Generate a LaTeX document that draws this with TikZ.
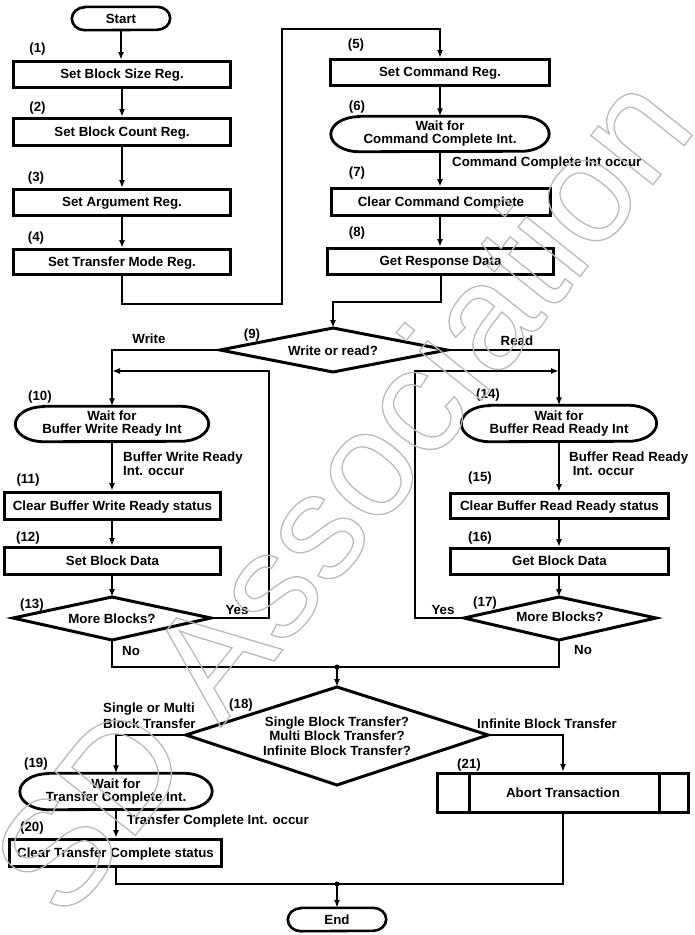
\documentclass[tikz,border=0pt]{standalone}
\usepackage{fontspec}
\setmainfont{Liberation Sans}
\newfontfamily\wmfont{Liberation Sans}
\usetikzlibrary{arrows.meta}
\newcommand\stadium[4]{% node, x radius, y radius, line width
  \draw[line width=#4] ([xshift=#2]#1.north west) -- ([xshift=-#2]#1.north east)
    arc[start angle=90,end angle=-90,x radius=#2,y radius=#3]
    -- ([xshift=#2]#1.south west)
    arc[start angle=270,end angle=90,x radius=#2,y radius=#3] -- cycle;}
\begin{document}
\begin{tikzpicture}[x=1pt,y=-1pt,
  every node/.style={inner sep=0pt, font=\fontsize{13.3}{14}\selectfont\bfseries},
  box/.style={draw, line width=3pt, align=center, text height=9.5pt, text depth=1.5pt},
  sta/.style={align=center, font=\fontsize{13.3}{13}\selectfont\bfseries},
  lbl/.style={align=left},
  conn/.style={line width=2pt},
  arr/.style={line width=2pt, -{Latex[length=8pt,width=6pt]}},
  dia/.style={line width=3pt, line join=miter},
  dot/.style={fill, circle, minimum size=5pt, inner sep=0pt},
]
\useasboundingbox (0,0) rectangle (694,935);

% ---------- left column ----------
\node[sta, minimum width=98pt, minimum height=23pt] (start) at (121,18.5) {Start};
\stadium{start}{13pt}{11.5pt}{2.6pt}
\node[box, minimum width=217pt, minimum height=26pt] (b1) at (122,74.5) {Set Block Size Reg.};
\node[box, minimum width=217pt, minimum height=27pt] (b2) at (122,132) {Set Block Count Reg.};
\node[box, minimum width=217pt, minimum height=26pt] (b3) at (122,202.5) {Set Argument Reg.};
\node[box, minimum width=217pt, minimum height=25pt] (b4) at (122,262) {Set Transfer Mode Reg.};
\node (l1) at (37.5,49) {(1)};
\node (l2) at (37.5,108) {(2)};
\node (l3) at (36,178) {(3)};
\node (l4) at (36,238) {(4)};

% ---------- right top column ----------
\node[box, minimum width=219pt, minimum height=26pt] (b5) at (440,72.5) {Set Command Reg.};
\node[sta, minimum width=218pt, minimum height=35pt] (e6) at (440,134) {Wait for\\Command Complete Int.};
\stadium{e6}{28pt}{17.5pt}{2.8pt}
\node[box, minimum width=219pt, minimum height=27pt] (b7) at (441,202) {Clear Command Complete};
\node[box, minimum width=226pt, minimum height=26pt] (b8) at (440.5,261.5) {Get Response Data};
\node (l5) at (356,45) {(5)};
\node (l6) at (357,107) {(6)};
\node (l7) at (357,173) {(7)};
\node (l8) at (357,233) {(8)};
\node[anchor=west] (t6) at (452,163) {Command Complete Int occur};

% ---------- decision 9 ----------
\coordinate (d9t) at (333,328);
\coordinate (d9l) at (220,350);
\coordinate (d9r) at (447,350);
\coordinate (d9b) at (333,372);
\draw[dia] (d9t) -- (d9r) -- (d9b) -- (d9l) -- cycle;
\node (d9) at (333,351) {Write or read?};
\node (l9) at (252,335) {(9)};
\node (tw) at (149,339) {Write};
\node (tr) at (517,341) {Read};

% ---------- write branch ----------
\node[sta, minimum width=193pt, minimum height=35pt] (e10) at (112,424) {Wait for\\Buffer Write Ready Int};
\stadium{e10}{28pt}{17.5pt}{2.8pt}
\node[box, minimum width=216pt, minimum height=27pt] (b11) at (112.5,506) {Clear Buffer Write Ready status};
\node[box, minimum width=216pt, minimum height=27pt] (b12) at (112.5,561) {Set Block Data};
\coordinate (d13t) at (112,597);
\coordinate (d13l) at (13,618);
\coordinate (d13r) at (211,618);
\coordinate (d13b) at (112,640);
\draw[dia] (d13t) -- (d13r) -- (d13b) -- (d13l) -- cycle;
\node (d13) at (112,619) {More Blocks?};
\node (l10) at (40,397) {(10)};
\node (l11) at (28,480) {(11)};
\node (l12) at (28,538) {(12)};
\node (l13) at (32,605) {(13)};
\node[lbl, anchor=west] (t10) at (123,464) {Buffer Write Ready\\Int. occur};
\node (y13) at (237,610) {Yes};
\node[anchor=west] (n13) at (122,651) {No};

% ---------- read branch ----------
\node[sta, minimum width=195pt, minimum height=36pt] (e14) at (559,423.5) {Wait for\\Buffer Read Ready Int};
\stadium{e14}{28pt}{18pt}{2.8pt}
\node[box, minimum width=218pt, minimum height=25pt] (b15) at (559.5,506) {Clear Buffer Read Ready status};
\node[box, minimum width=218pt, minimum height=26pt] (b16) at (559.5,561.5) {Get Block Data};
\coordinate (d17t) at (559,597);
\coordinate (d17l) at (464,618);
\coordinate (d17r) at (656,618);
\coordinate (d17b) at (559,640);
\draw[dia] (d17t) -- (d17r) -- (d17b) -- (d17l) -- cycle;
\node (d17) at (560,617) {More Blocks?};
\node (l14) at (488,395) {(14)};
\node (l15) at (480,478) {(15)};
\node (l16) at (480,538) {(16)};
\node (l17) at (485,603) {(17)};
\node[lbl, anchor=west] (t14) at (569,464) {Buffer Read Ready\\\ Int. occur};
\node (y17) at (443,610) {Yes};
\node[anchor=west] (n17) at (574,650) {No};

% ---------- decision 18 ----------
\coordinate (m1) at (337,667);
\coordinate (d18t) at (337,687);
\coordinate (d18l) at (186,735);
\coordinate (d18r) at (488,735);
\coordinate (d18b) at (337,785);
\draw[dia] (d18t) -- (d18r) -- (d18b) -- (d18l) -- cycle;
\node[align=center, font=\fontsize{13.3}{14.5}\selectfont\bfseries] (d18) at (337,736) {Single Block Transfer?\\Multi Block Transfer?\\Infinite Block Transfer?};
\node (l18) at (241,705) {(18)};
\node[lbl, anchor=west, font=\fontsize{13.3}{16}\selectfont\bfseries] (t18a) at (103,716) {Single or Multi\\Block Transfer};
\node[anchor=west] (t18b) at (477,724) {Infinite Block Transfer};

% ---------- bottom ----------
\node[sta, minimum width=192pt, minimum height=36pt] (e19) at (116,791.5) {Wait for\\Transfer Complete Int.};
\stadium{e19}{28pt}{18pt}{2.8pt}
\node[box, minimum width=212pt, minimum height=27pt] (b20) at (115.5,853) {Clear Transfer Complete status};
\node[box, minimum width=251pt, minimum height=39pt] (b21) at (563,793) {Abort Transaction};
\draw[line width=3pt] ([xshift=33pt]b21.north west) -- ([xshift=33pt]b21.south west);
\draw[line width=3pt] ([xshift=-31pt]b21.north east) -- ([xshift=-31pt]b21.south east);
\node (l19) at (36,764) {(19)};
\node (l20) at (32,828) {(20)};
\node (l21) at (469,765) {(21)};
\node[anchor=west] (t19) at (127,821) {Transfer Complete Int. occur};
\coordinate (m2) at (337,884);
\node[sta, minimum width=98pt, minimum height=23pt] (end) at (337,919.5) {End};
\stadium{end}{13pt}{11.5pt}{2.6pt}

% ---------- connectors ----------
\coordinate (r1) at (282,304);
\coordinate (r2) at (282,29);
\coordinate (r3) at (333,302);
\coordinate (ya) at (269,371);
\coordinate (yb) at (415,371);

\draw[arr] (start.south) -- (start.south |- b1.north);
\draw[arr] (b1.south) -- (b2.north);
\draw[arr] (b2.south) -- (b3.north);
\draw[arr] (b3.south) -- (b4.north);
\draw[arr] (b4.south) |- (r1) -- (r2) -| (b5.north);
\draw[arr] (b5.south) -- (e6.north);
\draw[arr] (e6.south) -- (e6.south |- b7.north);
\draw[arr] (b7.south -| e6.south) -- (e6.south |- b8.north);
\draw[arr] (b8.south) |- (r3) -- (d9t);
\draw[arr] (d9l) -| (e10.north);
\draw[arr] (d9r) -| (e14.north);
\draw[arr] (e10.south) -- (e10.south |- b11.north);
\draw[arr] (e10.south |- b11.south) -- (e10.south |- b12.north);
\draw[arr] (e10.south |- b12.south) -- (d13t);
\draw[arr] (d13r) -| (ya) -- (ya -| e10.north);
\draw[conn] (d13b) |- (m1);
\draw[arr] (e14.south) -- (e14.south |- b15.north);
\draw[arr] (e14.south |- b15.south) -- (e14.south |- b16.north);
\draw[arr] (e14.south |- b16.south) -- (d17t);
\draw[arr] (d17l) -| (yb) -- (yb -| e14.north);
\draw[conn] (d17b) |- (m1);
\draw[arr] (m1) -- (d18t);
\node[dot] (dot1) at (m1) {};
\draw[arr] (d18l) -| (e19.north);
\draw[arr] (e19.south) -- (e19.south |- b20.north);
\draw[conn] (b20.south) |- (m2);
\draw[arr] (d18r) -| (b21.north);
\draw[conn] (b21.south) |- (m2);
\draw[arr] (m2) -- (end.north);
\node[dot] (dot2) at (m2) {};

% ---------- watermark ----------
\node[rotate=51.5, text=black!27, font=\wmfont\fontsize{150}{150}\selectfont] (wm) at (340,492)
  {\special{pdf:literal direct 1 Tr 1.3 w}SD Association\special{pdf:literal direct 0 Tr}};
\end{tikzpicture}
\end{document}
